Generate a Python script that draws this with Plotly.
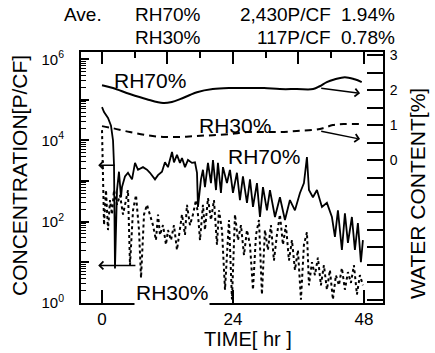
import plotly.graph_objects as go

# ---- particle concentration [P/CF], RH70% chamber (solid) ----
t_rh70 = [0.0, 0.37, 1.1, 1.65, 2.02, 2.2, 2.38, 2.75, 3.11, 3.48, 3.66, 4.21, 4.76, 5.5,
          6.05, 6.6, 7.51, 8.24, 8.79, 9.71, 10.26, 10.99, 11.54, 12.09, 12.83, 13.19,
          13.74, 14.29, 14.66, 15.21, 15.76, 16.49, 17.04, 17.41, 17.59, 18.14, 18.5,
          18.87, 19.42, 19.97, 20.34, 20.89, 21.25, 21.8, 22.17, 22.9, 23.45, 24.0,
          24.73, 25.28, 25.83, 26.57, 27.12, 27.67, 28.4, 28.95, 29.5, 30.23, 30.78,
          31.7, 32.61, 33.53, 34.44, 35.36, 36.28, 37.01, 37.56, 37.93, 38.66, 39.39,
          40.31, 41.22, 42.14, 42.69, 43.24, 43.97, 44.52, 45.07, 45.8, 46.35, 46.9,
          47.45, 47.82]
c_rh70 = [66000, 50000, 36000, 23000, 10000, 2500, 7, 600, 1700, 400, 710, 1300, 1600, 1100,
          2800, 1900, 2200, 1900, 1600, 1100, 1400, 1700, 2900, 2200, 5200, 2900,
          4400, 2800, 3700, 2200, 3300, 2800, 2900, 1600, 230, 1100, 1900,
          710, 2800, 890, 3300, 600, 2800, 510, 2200, 890, 1900, 510,
          1600, 340, 1300, 290, 1100, 230, 890, 130, 710, 190, 600,
          130, 400, 110, 340, 190, 510, 890, 3900, 600, 400, 600,
          230, 290, 130, 42, 190, 20, 160, 30, 130, 20, 92,
          10, 35]

# ---- particle concentration [P/CF], RH30% chamber (dotted) ----
t_rh30 = [0.0, 0.18, 0.37, 0.73, 1.1, 1.47, 1.83, 2.2, 2.75, 3.3, 3.85, 4.4, 4.76, 5.13,
          5.68, 6.23, 6.78, 7.15, 7.7, 8.24, 8.79, 9.34, 9.89, 10.26, 10.63, 11.18,
          11.73, 12.09, 12.64, 13.19, 13.74, 14.29, 14.66, 15.21, 15.57, 16.12, 16.67,
          17.22, 17.59, 17.96, 18.5, 18.87, 19.42, 19.97, 20.52, 21.07, 21.44, 21.99,
          22.54, 23.27, 23.82, 24.37, 24.92, 25.47, 26.02, 26.57, 27.12, 27.67, 28.22,
          28.77, 29.31, 29.86, 30.41, 30.96, 31.51, 32.06, 32.61, 33.16, 33.71, 34.26,
          34.81, 35.36, 35.91, 36.46, 37.01, 37.56, 37.93, 38.48, 39.03, 39.57, 40.12,
          40.67, 41.22, 41.77, 42.32, 42.87, 43.42, 43.97, 44.52, 45.07, 45.62, 46.17,
          46.72, 47.27, 47.82]
c_rh30 = [18000, 1400, 82, 600, 62, 340, 150, 600, 260, 450, 150, 340, 600, 8.5,
          190, 450, 62, 4.1, 150, 260, 150, 82, 35, 150, 47, 82,
          27, 62, 35, 82, 20, 62, 150, 47, 260, 82, 150,
          340, 150, 35, 260, 62, 380, 110, 340, 27, 190, 62,
          2.1, 110, 1.2, 150, 35, 82, 15, 62, 27, 2.1, 47,
          110, 1.6, 62, 20, 82, 11, 47, 150, 27, 82, 11,
          35, 6.4, 20, 1.2, 27, 55, 2.7, 10, 4.8, 13, 2.7,
          8.5, 2.1, 6.4, 1.2, 4.8, 2.7, 7.2, 2.1, 5.7, 3.1, 8.5,
          1.6, 4.8, 2.7]

# ---- water content [%] ----
t_w70 = [0, 2.0, 5.1, 8.2, 11.2, 12.8, 14.3, 16.1, 17.4, 20.3, 23.4, 26.6, 29.7, 32.6,
         35.7, 38.7, 39.9, 41.2, 42.7, 44.5, 46.3, 47.6]
w_rh70 = [2.14, 2.06, 1.89, 1.74, 1.63, 1.66, 1.74, 1.86, 1.94, 2.03, 2.06, 2.06, 2.06, 2.03,
          2.03, 2.03, 2.11, 2.23, 2.31, 2.37, 2.31, 2.23]
t_w30 = [0, 2.0, 5.1, 8.2, 11.2, 14.3, 17.4, 20.3, 23.4, 26.6, 29.7, 32.6, 35.7, 38.7,
         40.5, 42.3, 44.5, 47.3]
w_rh30 = [0.97, 0.91, 0.80, 0.71, 0.66, 0.66, 0.69, 0.71, 0.74, 0.80, 0.80, 0.80, 0.83, 0.86,
          0.91, 1.00, 1.03, 1.03]

# ---- axis ticks ----
time_ticks = [0, 24, 48]
time_labels = ["0", "24", "48"]
top_major = [0, 12, 24, 36, 48]
top_minor = [6, 18, 30, 42]
conc_ticks = [1, 10, 100, 1000, 10000, 100000, 1000000]
conc_labels = ["10<sup>0</sup>", "", "10<sup>2</sup>", "", "10<sup>4</sup>", "", "10<sup>6</sup>"]
conc_minor = [m * 10 ** d for d in range(0, 6) for m in range(2, 10)]
water_ticks = [v / 2 for v in range(-8, 7)]
water_labels = [str(int(v)) if (v >= 0 and v == int(v)) else "" for v in water_ticks]

FONT = "Liberation Sans, Arial, sans-serif"
INK = "black"

fig = go.Figure()
fig.add_trace(go.Scatter(x=t_rh30, y=c_rh30, mode="lines", xaxis="x", yaxis="y",
                         line=dict(color=INK, width=2, dash="3px,3px")))
fig.add_trace(go.Scatter(x=t_rh70, y=c_rh70, mode="lines", xaxis="x", yaxis="y",
                         line=dict(color=INK, width=1.8)))
fig.add_trace(go.Scatter(x=t_w70, y=w_rh70, mode="lines", xaxis="x2", yaxis="y2",
                         line=dict(color=INK, width=2, shape="spline")))
fig.add_trace(go.Scatter(x=t_w30, y=w_rh30, mode="lines", xaxis="x2", yaxis="y2",
                         line=dict(color=INK, width=2, dash="7px,5px", shape="spline")))
# empty traces so the tick-only overlay axes get drawn
fig.add_trace(go.Scatter(x=[None], y=[None], xaxis="x3", yaxis="y2", showlegend=False,
                         hoverinfo="skip"))
fig.add_trace(go.Scatter(x=[None], y=[None], xaxis="x", yaxis="y3", showlegend=False,
                         hoverinfo="skip"))

xr = [-3.85, 51.5]
yr_log = [-0.005, 6.18]
fig.update_layout(
    width=435, height=353,
    margin=dict(l=81, r=52, t=52, b=50),
    paper_bgcolor="white", plot_bgcolor="white",
    showlegend=False,
    font=dict(family=FONT, color=INK),
    xaxis=dict(range=xr, tickmode="array", tickvals=time_ticks, ticktext=time_labels,
               ticks="inside", ticklen=13, tickwidth=1.5, tickcolor=INK,
               showline=True, linewidth=2, linecolor=INK, showgrid=False, zeroline=False,
               tickfont=dict(size=17, family=FONT), anchor="y"),
    xaxis2=dict(range=xr, overlaying="x", side="top", anchor="y2",
                tickmode="array", tickvals=top_major, showticklabels=False,
                ticks="inside", ticklen=12, tickwidth=1.5, tickcolor=INK,
                showline=True, linewidth=2, linecolor=INK, showgrid=False, zeroline=False),
    xaxis3=dict(range=xr, overlaying="x", side="top", anchor="y2",
                tickmode="array", tickvals=top_minor, showticklabels=False,
                ticks="inside", ticklen=6, tickwidth=1.5, tickcolor=INK,
                showline=False, showgrid=False, zeroline=False),
    yaxis=dict(type="log", range=yr_log, tickmode="array", tickvals=conc_ticks,
               ticktext=conc_labels, ticks="inside", ticklen=8, tickwidth=2, tickcolor=INK,
               showline=True, linewidth=2, linecolor=INK, showgrid=False, zeroline=False,
               tickfont=dict(size=15, family=FONT), ticklabelstandoff=12, anchor="x"),
    yaxis3=dict(type="log", range=yr_log, overlaying="y", side="left", anchor="x",
                tickmode="array", tickvals=conc_minor, showticklabels=False,
                ticks="inside", ticklen=5, tickwidth=1.3, tickcolor=INK,
                showline=False, showgrid=False, zeroline=False),
    yaxis2=dict(range=[-4.09, 3.09], overlaying="y", side="right", anchor="x2",
                tickmode="array", tickvals=water_ticks, ticktext=water_labels,
                ticks="inside", ticklen=16, tickwidth=1.5, tickcolor=INK,
                showline=True, linewidth=2, linecolor=INK, showgrid=False, zeroline=False,
                tickfont=dict(size=14, family=FONT), ticklabelstandoff=2),
)

def paper_x(px):
    return (px - 81) / 302

def paper_y(py):
    return (303 - py) / 251

def label(txt, px, py, size, xanchor="center", angle=0, bg=None):
    a = dict(text=txt, x=paper_x(px), y=paper_y(py), xref="paper", yref="paper",
             xanchor=xanchor, yanchor="middle", textangle=angle, showarrow=False,
             font=dict(size=size, family=FONT, color=INK))
    if bg:
        a["bgcolor"] = bg
    return a

ann = []
# header block
for txt, px, py, anchor in [
    ("Ave.", 62, 15, "left"), ("RH70%", 133, 15, "left"), ("2,430P/CF", 333, 15, "right"),
    ("1.94%", 397, 15, "right"),
    ("RH30%", 133, 37, "left"), ("117P/CF", 333, 37, "right"), ("0.78%", 397, 37, "right"),
]:
    ann.append(label(txt, px, py, 19, xanchor=anchor))

# axis titles
ann.append(label("CONCENTRATION[P/CF]", 19, 176, 21, angle=-90))
ann.append(label("WATER CONTENT[%]", 418, 194, 21, angle=-90))
ann.append(label("TIME[ hr ]", 248, 339, 20))

# series labels inside the frame
ann.append(label("RH70%", 150, 80, 21))
ann.append(label("RH30%", 235, 126, 21))
ann.append(label("RH70%", 264, 156, 21, bg="white"))
ann.append(label("RH30%", 172, 292, 21, bg="white"))

# arrows pointing to the axis each curve is read against
arrow = dict(showarrow=True, arrowhead=4, arrowsize=1.1, arrowwidth=1.4, arrowcolor=INK,
             text="")
ann.append(dict(arrow, x=47.3, y=1.91, ax=39.9, ay=2.06, xref="x2", yref="y2",
                axref="x2", ayref="y2"))
ann.append(dict(arrow, x=47.3, y=0.6, ax=39.9, ay=0.83, xref="x2", yref="y2",
                axref="x2", ayref="y2"))
ann.append(dict(arrow, x=-0.7, y=3.39, ax=2.6, ay=3.39, xref="x", yref="y",
                axref="x", ayref="y"))
ann.append(dict(arrow, x=-0.7, y=0.92, ax=6.4, ay=0.92, xref="x", yref="y",
                axref="x", ayref="y"))

fig.update_layout(annotations=ann)
fig.write_html("out.html")
